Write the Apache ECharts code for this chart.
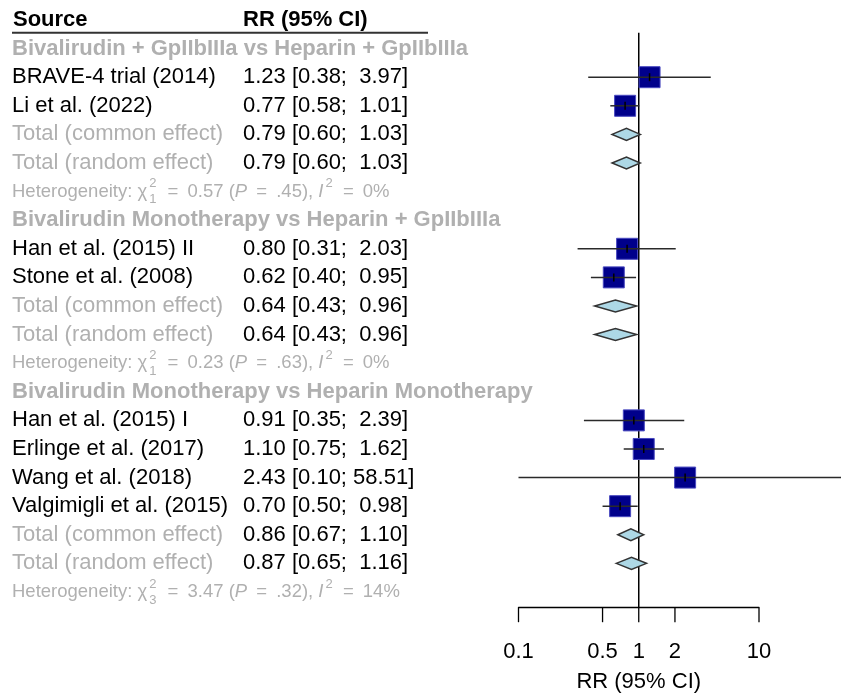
<!DOCTYPE html>
<html>
<head>
<meta charset="utf-8">
<script src="https://cdn.jsdelivr.net/npm/echarts@6/dist/echarts.min.js"></script>
</head>
<body style="margin:0">
<div id="main" style="width:841px;height:696px"></div>
<script>
// groups
var groupNames = ['Bivalirudin + GpIIbIIIa vs Heparin + GpIIbIIIa',
  'Bivalirudin Monotherapy vs Heparin + GpIIbIIIa',
  'Bivalirudin Monotherapy vs Heparin Monotherapy'];
var groupRows = [1, 7, 13];

// individual studies
var studyNames = ['BRAVE-4 trial (2014)', 'Li et al. (2022)', 'Han et al. (2015) II', 'Stone et al. (2008)',
  'Han et al. (2015) I', 'Erlinge et al. (2017)', 'Wang et al. (2018)', 'Valgimigli et al. (2015)'];
var studyRows = [2, 3, 8, 9, 14, 15, 16, 17];
var studyRR = [1.23, 0.77, 0.80, 0.62, 0.91, 1.10, 2.43, 0.70];
var studyLo = [0.38, 0.58, 0.31, 0.40, 0.35, 0.75, 0.10, 0.50];
var studyHi = [3.97, 1.01, 2.03, 0.95, 2.39, 1.62, 58.51, 0.98];

// pooled estimates
var pooledNames = ['Total (common effect)', 'Total (random effect)', 'Total (common effect)', 'Total (random effect)',
  'Total (common effect)', 'Total (random effect)'];
var pooledRows = [4, 5, 10, 11, 18, 19];
var pooledRR = [0.79, 0.79, 0.64, 0.64, 0.86, 0.87];
var pooledLo = [0.60, 0.60, 0.43, 0.43, 0.67, 0.65];
var pooledHi = [1.03, 1.03, 0.96, 0.96, 1.10, 1.16];

// heterogeneity lines
var hetRows = [6, 12, 20];
var hetChi = ['0.57', '0.23', '3.47'];
var hetDf = ['1', '1', '3'];
var hetP = ['.45', '.63', '.32'];
var hetI2 = ['0%', '0%', '14%'];

var tickValues = [0.1, 0.5, 1, 2, 10];
var tickLabels = ['0.1', '0.5', '1', '2', '10'];

var FAM = '"Liberation Sans", Arial, sans-serif';
var GREY = '#b0b0b0';
var Y_MAX = 20.55;

function ciText(e, l, h) {
  var hs = h.toFixed(2);
  return e.toFixed(2) + ' [' + l.toFixed(2) + ';' + (hs.length < 5 ? '  ' : ' ') + hs + ']';
}

// text lines of the left table
var lines = [];
lines.push({row: 0, x: 13, text: 'Source', color: '#000', bold: true});
lines.push({row: 0, x: 243, text: 'RR (95% CI)', color: '#000', bold: true});
groupNames.forEach(function (n, i) {
  lines.push({row: groupRows[i], x: 12, text: n, color: GREY, bold: true});
});
studyNames.forEach(function (n, i) {
  lines.push({row: studyRows[i], x: 12, text: n, color: '#000'});
  lines.push({row: studyRows[i], x: 243, text: ciText(studyRR[i], studyLo[i], studyHi[i]), color: '#000'});
});
pooledNames.forEach(function (n, i) {
  lines.push({row: pooledRows[i], x: 12, text: n, color: GREY});
  lines.push({row: pooledRows[i], x: 243, text: ciText(pooledRR[i], pooledLo[i], pooledHi[i]), color: '#000'});
});

var ctx = document.createElement('canvas').getContext('2d');
function tw(s, font) { ctx.font = font; return ctx.measureText(s).width; }

var fN = '18.5px ' + FAM, fI = 'italic 18.5px ' + FAM, fS = '13px ' + FAM;

// plotmath-like line: Heterogeneity: chi^2_df = x (P = p), I^2 = i
function hetGroup(i, y) {
  var x = 12, kids = [];
  function put(s, font, dy) {
    kids.push({type: 'text', x: x, y: y + (dy || 0),
      style: {text: s, font: font, fill: GREY, verticalAlign: 'middle'}});
    x += tw(s, font);
  }
  function eq() { x += 4; put('=', fN); x += 4; }
  put('Heterogeneity: \u03c7', fN);
  var x0 = x + 2;
  kids.push({type: 'text', x: x0, y: y - 8, style: {text: '2', font: fS, fill: GREY, verticalAlign: 'middle'}});
  kids.push({type: 'text', x: x0, y: y + 8, style: {text: hetDf[i], font: fS, fill: GREY, verticalAlign: 'middle'}});
  x = x0 + tw('2', fS) + 2;
  put(' ', fN); eq(); put(' ' + hetChi[i] + ' (', fN);
  put('P', fI);
  put(' ', fN); eq(); put(' ' + hetP[i] + '), ', fN);
  put('I', fI);
  kids.push({type: 'text', x: x + 2, y: y - 8, style: {text: '2', font: fS, fill: GREY, verticalAlign: 'middle'}});
  x += tw('2', fS) + 3;
  put(' ', fN); eq(); put(' ' + hetI2[i], fN);
  return {type: 'group', children: kids};
}

var chart = echarts.init(document.getElementById('main'));

chart.setOption({
  animation: false,
  grid: {left: 518.5, width: 240.5, top: 20, height: 587.7, outerBoundsMode: 'none', containLabel: false},
  xAxis: {
    type: 'log', logBase: 10, min: 0.1, max: 10, position: 'bottom',
    axisLine: {onZero: false, lineStyle: {color: '#000', width: 1.3}},
    axisTick: {show: false}, axisLabel: {show: false}, splitLine: {show: false},
    name: 'RR (95% CI)', nameLocation: 'middle', nameGap: 63,
    nameTextStyle: {fontSize: 22, color: '#000', fontFamily: FAM}
  },
  yAxis: {type: 'value', inverse: true, min: 0, max: Y_MAX, show: false},
  series: [
    {
      // left table text
      type: 'custom', silent: true,
      data: lines.map(function (l) { return [1, l.row]; }),
      renderItem: function (params, api) {
        var l = lines[params.dataIndex];
        var y = api.coord([1, api.value(1)])[1];
        return {type: 'text', x: l.x, y: y,
          style: {text: l.text, fill: l.color, font: (l.bold ? 'bold ' : '') + '22px ' + FAM, verticalAlign: 'middle'}};
      }
    },
    {
      // heterogeneity lines
      type: 'custom', silent: true,
      data: hetRows.map(function (r) { return [1, r]; }),
      renderItem: function (params, api) {
        return hetGroup(params.dataIndex, api.coord([1, api.value(1)])[1]);
      }
    },
    {
      // header rule + reference line at RR = 1
      type: 'custom', silent: true,
      data: [[1, 0.45]],
      renderItem: function (params, api) {
        var top = api.coord([1, api.value(1)]);
        var bot = api.coord([1, Y_MAX]);
        return {type: 'group', children: [
          {type: 'line', shape: {x1: 12, y1: top[1], x2: 428, y2: top[1]}, style: {stroke: '#333', lineWidth: 2}},
          {type: 'line', shape: {x1: top[0], y1: top[1], x2: bot[0], y2: bot[1]}, style: {stroke: '#000', lineWidth: 1.5}}
        ]};
      }
    },
    {
      // axis ticks and labels
      type: 'custom', silent: true,
      data: tickValues.map(function (v) { return [v, Y_MAX]; }),
      renderItem: function (params, api) {
        var p = api.coord([api.value(0), api.value(1)]);
        return {type: 'group', children: [
          {type: 'line', shape: {x1: p[0], y1: p[1], x2: p[0], y2: p[1] + 14.5}, style: {stroke: '#000', lineWidth: 1.3}},
          {type: 'text', x: p[0], y: p[1] + 44,
            style: {text: tickLabels[params.dataIndex], font: '22px ' + FAM, fill: '#000', align: 'center', verticalAlign: 'middle'}}
        ]};
      }
    },
    {
      // study squares with CI
      type: 'custom', silent: true,
      data: studyRR.map(function (v, i) { return [v, studyLo[i], studyHi[i], studyRows[i]]; }),
      renderItem: function (params, api) {
        var c = api.coord([api.value(0), api.value(3)]);
        var l = api.coord([api.value(1), api.value(3)]);
        var h = api.coord([api.value(2), api.value(3)]);
        var s = 21;
        return {type: 'group', children: [
          {type: 'rect', shape: {x: c[0] - s / 2, y: c[1] - s / 2, width: s, height: s},
            style: {fill: '#00008b', stroke: '#4848c0', lineWidth: 1}},
          {type: 'line', shape: {x1: l[0], y1: c[1], x2: h[0], y2: c[1]}, style: {stroke: '#2a2a2a', lineWidth: 1.5}},
          {type: 'line', shape: {x1: c[0], y1: c[1] - 4, x2: c[0], y2: c[1] + 4}, style: {stroke: '#000', lineWidth: 1.5}}
        ]};
      }
    },
    {
      // pooled diamonds
      type: 'custom', silent: true,
      data: pooledRR.map(function (v, i) { return [v, pooledLo[i], pooledHi[i], pooledRows[i]]; }),
      renderItem: function (params, api) {
        var c = api.coord([api.value(0), api.value(3)]);
        var l = api.coord([api.value(1), api.value(3)]);
        var h = api.coord([api.value(2), api.value(3)]);
        return {type: 'polygon',
          shape: {points: [[l[0], c[1]], [c[0], c[1] - 6], [h[0], c[1]], [c[0], c[1] + 6]]},
          style: {fill: '#add8e6', stroke: '#333', lineWidth: 1.5}};
      }
    }
  ]
});
</script>
</body>
</html>
